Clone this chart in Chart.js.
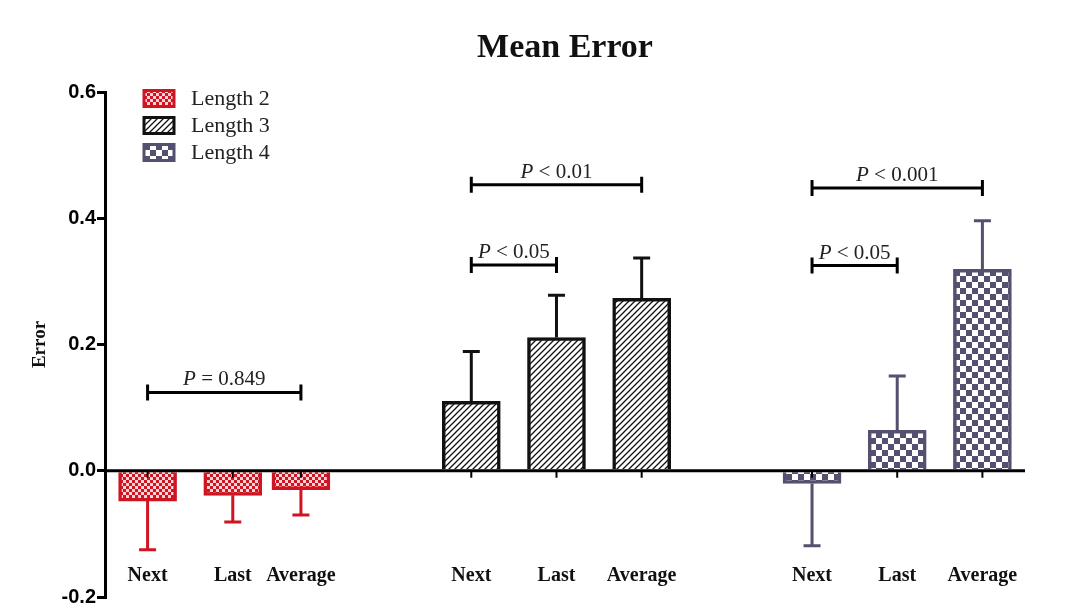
<!DOCTYPE html>
<html>
<head>
<meta charset="utf-8">
<title>Mean Error</title>
<script src="https://cdn.jsdelivr.net/npm/chart.js@4.4.1/dist/chart.umd.min.js"></script>
<style>
    html, body { margin: 0; padding: 0; background: #fff; }
    #wrap { width: 1075px; height: 608px; position: relative; }
</style>
</head>
<body>
<div id="wrap"><canvas id="chart"></canvas></div>
<script>
// Data
const conditions = ['Next', 'Last', 'Average'];
const seriesNames = ['Length 2', 'Length 3', 'Length 4'];
const len2Mean = [-0.048, -0.039, -0.030];
const len2Err = [0.077, 0.042, 0.040];
const len3Mean = [0.110, 0.211, 0.273];
const len3Err = [0.079, 0.067, 0.064];
const len4Mean = [-0.020, 0.064, 0.319];
const len4Err = [0.099, 0.086, 0.077];
const yMin = -0.2;
const yMax = 0.6;
const yStep = 0.2;

// Significance brackets (group, from/to condition index, height, text)
const sigGroup = [0, 1, 1, 2, 2];
const sigFrom = [0, 0, 0, 0, 0];
const sigTo = [2, 2, 1, 2, 1];
const sigLevel = [0.124, 0.453, 0.326, 0.448, 0.325];
const sigOp = ['=', '<', '<', '<', '<'];
const sigValue = ['0.849', '0.01', '0.05', '0.001', '0.05'];

// Style
const colors = {
    red: '#cf1422',
    black: '#111111',
    slate: '#53516f'
};
const serif = "'Liberation Serif', 'Times New Roman', serif";
const sans = "'Liberation Sans', Arial, sans-serif";

// Layout: narrow category slots so the groups sit where the original puts them
const slotCount = 54;
const slotOf = [[2, 7, 11], [21, 26, 31], [41, 46, 51]];

// Patterns
function makeTile(size, draw) {
    const c = document.createElement('canvas');
    c.width = size;
    c.height = size;
    const g = c.getContext('2d');
    draw(g, size);
    return document.createElement('canvas').getContext('2d').createPattern(c, 'repeat');
}

function checker(color, cell, light) {
    return makeTile(cell * 2, (g, s) => {
        g.fillStyle = light;
        g.fillRect(0, 0, s, s);
        g.fillStyle = color;
        g.fillRect(0, 0, cell, cell);
        g.fillRect(cell, cell, cell, cell);
    });
}

function hatch(color) {
    return makeTile(6, (g, s) => {
        g.fillStyle = '#fff';
        g.fillRect(0, 0, s, s);
        g.strokeStyle = color;
        g.lineWidth = 1.3;
        g.beginPath();
        g.moveTo(-1, s + 1); g.lineTo(s + 1, -1);
        g.moveTo(-1, 1); g.lineTo(1, -1);
        g.moveTo(s - 1, s + 1); g.lineTo(s + 1, s - 1);
        g.stroke();
    });
}

const fills = [
    checker(colors.red, 3, '#f6d6d8'),
    hatch(colors.black),
    checker(colors.slate, 6, '#ffffff')
];
const borders = [colors.red, colors.black, colors.slate];
const means = [len2Mean, len3Mean, len4Mean];
const errs = [len2Err, len3Err, len4Err];

const labels = Array(slotCount).fill('');
slotOf.forEach(row => row.forEach((s, i) => { labels[s] = conditions[i]; }));

const datasets = seriesNames.map((name, g) => {
    const data = labels.map(() => null);
    means[g].forEach((v, i) => { data[slotOf[g][i]] = v; });
    return {
        label: name,
        data: data,
        backgroundColor: fills[g],
        borderColor: borders[g],
        borderWidth: 3.5,
        borderSkipped: 'start',
        grouped: false,
        barThickness: 58
    };
});

// Title, error bars, zero line, category labels, brackets, legend
const overlayPlugin = {
    id: 'overlay',
    afterDatasetsDraw(chart) {
        const ctx = chart.ctx;
        const y = chart.scales.y;
        const area = chart.chartArea;
        ctx.save();

        // title, centred over the plot area
        ctx.fillStyle = '#111';
        ctx.font = 'bold 34px ' + serif;
        ctx.textAlign = 'center';
        ctx.textBaseline = 'alphabetic';
        ctx.fillText('Mean Error', (area.left + area.right) / 2, 57);

        // error bars
        datasets.forEach((ds, g) => {
            const meta = chart.getDatasetMeta(g);
            means[g].forEach((v, i) => {
                const el = meta.data[slotOf[g][i]];
                const end = v >= 0 ? v + errs[g][i] : v - errs[g][i];
                const yEnd = y.getPixelForValue(end);
                ctx.strokeStyle = borders[g];
                ctx.lineWidth = 3;
                ctx.beginPath();
                ctx.moveTo(el.x, el.y);
                ctx.lineTo(el.x, yEnd);
                ctx.moveTo(el.x - 8.5, yEnd);
                ctx.lineTo(el.x + 8.5, yEnd);
                ctx.stroke();
            });
        });

        // zero line with small ticks under each bar
        const y0 = y.getPixelForValue(0);
        ctx.strokeStyle = '#000';
        ctx.lineWidth = 3;
        ctx.beginPath();
        ctx.moveTo(area.left, y0);
        ctx.lineTo(area.right, y0);
        ctx.stroke();
        ctx.lineWidth = 2;
        datasets.forEach((ds, g) => {
            const meta = chart.getDatasetMeta(g);
            conditions.forEach((c, i) => {
                const x = meta.data[slotOf[g][i]].x;
                ctx.beginPath();
                ctx.moveTo(x, y0);
                ctx.lineTo(x, y0 + 7);
                ctx.stroke();
            });
        });

        // category labels
        ctx.fillStyle = '#111';
        ctx.font = 'bold 20px ' + serif;
        ctx.textAlign = 'center';
        ctx.textBaseline = 'middle';
        datasets.forEach((ds, g) => {
            const meta = chart.getDatasetMeta(g);
            conditions.forEach((c, i) => {
                ctx.fillText(c, meta.data[slotOf[g][i]].x, 576);
            });
        });

        // significance brackets
        sigGroup.forEach((g, k) => {
            const meta = chart.getDatasetMeta(g);
            const x1 = meta.data[slotOf[g][sigFrom[k]]].x;
            const x2 = meta.data[slotOf[g][sigTo[k]]].x;
            const yb = y.getPixelForValue(sigLevel[k]);
            ctx.strokeStyle = '#000';
            ctx.lineWidth = 3;
            ctx.beginPath();
            ctx.moveTo(x1, yb);
            ctx.lineTo(x2, yb);
            ctx.moveTo(x1, yb - 8);
            ctx.lineTo(x1, yb + 8);
            ctx.moveTo(x2, yb - 8);
            ctx.lineTo(x2, yb + 8);
            ctx.stroke();

            const italic = 'italic 21px ' + serif;
            const normal = '21px ' + serif;
            const rest = ' ' + sigOp[k] + ' ' + sigValue[k];
            ctx.font = italic;
            const wP = ctx.measureText('P').width;
            ctx.font = normal;
            const wR = ctx.measureText(rest).width;
            const xs = (x1 + x2) / 2 - (wP + wR) / 2;
            ctx.textAlign = 'left';
            ctx.textBaseline = 'alphabetic';
            ctx.fillStyle = '#222';
            ctx.font = italic;
            ctx.fillText('P', xs, yb - 7);
            ctx.font = normal;
            ctx.fillText(rest, xs + wP, yb - 7);
        });

        // legend
        seriesNames.forEach((name, g) => {
            const cy = 98.5 + g * 27;
            ctx.fillStyle = fills[g];
            ctx.fillRect(144, cy - 8, 30, 16);
            ctx.strokeStyle = borders[g];
            ctx.lineWidth = 3;
            ctx.strokeRect(144, cy - 8, 30, 16);
            ctx.fillStyle = '#222';
            ctx.font = '22px ' + serif;
            ctx.textAlign = 'left';
            ctx.textBaseline = 'middle';
            ctx.fillText(name, 191, cy + 1);
        });

        ctx.restore();
    }
};

const chart = new Chart(document.getElementById('chart'), {
    type: 'bar',
    data: { labels: labels, datasets: datasets },
    options: {
        responsive: true,
        maintainAspectRatio: false,
        animation: false,
        layout: {
            padding: { left: 0, right: 50, top: 92, bottom: 10 }
        },
        scales: {
            x: {
                type: 'category',
                offset: true,
                display: false
            },
            y: {
                min: yMin,
                max: yMax,
                afterFit: scale => { scale.width = 105; },
                ticks: {
                    stepSize: yStep,
                    padding: 1,
                    color: '#000',
                    font: { family: sans, size: 20, weight: 'bold', lineHeight: 1 },
                    callback: v => Number(v).toFixed(1)
                },
                grid: {
                    drawOnChartArea: false,
                    drawTicks: true,
                    tickLength: 8,
                    color: '#000',
                    lineWidth: 3
                },
                border: { display: true, color: '#000', width: 3 },
                title: {
                    display: true,
                    text: 'Error',
                    color: '#111',
                    font: { family: serif, size: 19, weight: 'bold' },
                    padding: { top: 29, bottom: 0 }
                }
            }
        },
        plugins: {
            legend: { display: false },
            tooltip: { enabled: false }
        }
    },
    plugins: [overlayPlugin]
});
</script>
</body>
</html>
